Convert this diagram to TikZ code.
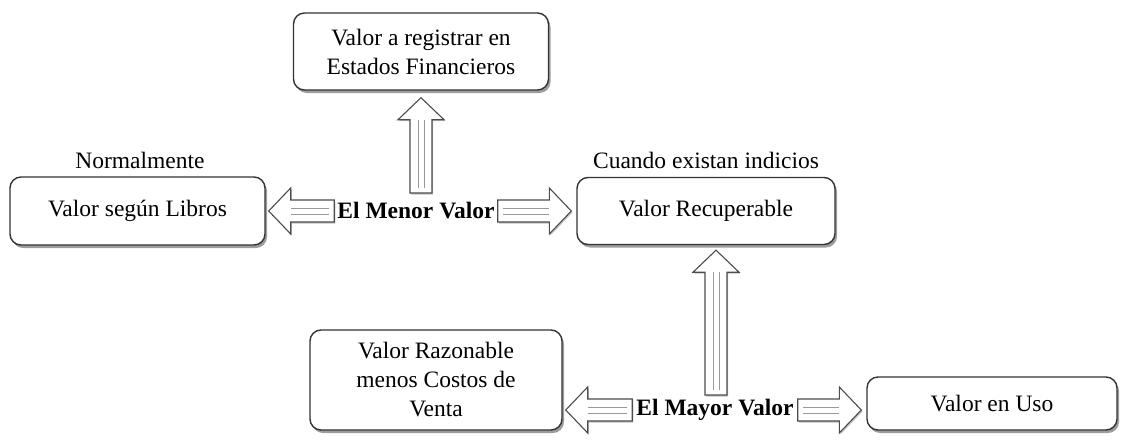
\documentclass[tikz,border=0pt]{standalone}
\usepackage{fontspec}
\setmainfont{Liberation Serif}
\usetikzlibrary{calc,shadows}
\tikzset{
  box/.style={draw=black!80, line width=1.4pt, fill=white, rounded corners=11pt,
    align=center, inner sep=2pt, font=\fontsize{23.5}{29}\selectfont,
    drop shadow={shadow xshift=2pt, shadow yshift=-3pt, fill=black!55, opacity=0.7}},
  lbl/.style={font=\fontsize{23.5}{29}\selectfont, inner sep=0pt},
  keylbl/.style={font=\fontsize{23.5}{29}\selectfont\bfseries, inner sep=0pt},
  arrowbody/.style={draw=black!70, line width=1.1pt, fill=white, line join=miter,
    drop shadow={shadow xshift=1.2pt, shadow yshift=-1.5pt, fill=black!40, opacity=0.6}},
  arrowline/.style={draw=black!40, line width=0.6pt},
}
\newcommand\blockarrow[2]{%
  \path[arrowbody] let \p1=(#1), \p2=(#2), \n1={atan2(\y2-\y1,\x2-\x1)},
    \n2={veclen(\x2-\x1,\y2-\y1)} in
    [shift={(\p1)}, rotate=\n1] (0,-11) -- (\n2-22,-11) -- (\n2-22,-23) -- (\n2,0)
    -- (\n2-22,23) -- (\n2-22,11) -- (0,11) -- cycle;
  \path[arrowline] let \p1=(#1), \p2=(#2), \n1={atan2(\y2-\y1,\x2-\x1)},
    \n2={veclen(\x2-\x1,\y2-\y1)} in
    [shift={(\p1)}, rotate=\n1] (5,-3) -- (\n2-22,-3) (5,3) -- (\n2-22,3);
}
\begin{document}
\begin{tikzpicture}[x=1pt, y=-1pt]
\useasboundingbox (0,0) rectangle (1126,439);

% boxes
\node[box, minimum width=255pt, minimum height=77pt] (top) at (421,51.5) {Valor a registrar en\\Estados Financieros};
\node[box, minimum width=255pt, minimum height=68pt] (libros) at (137.5,211) {Valor según Libros};
\node[box, minimum width=258pt, minimum height=67pt] (recup) at (706,211) {Valor Recuperable};
\node[box, minimum width=252pt, minimum height=100pt] (razon) at (436,380) {Valor Razonable\\menos Costos de\\Venta};
\node[box, minimum width=250pt, minimum height=53pt] (uso) at (992,403.5) {Valor en Uso};

% labels
\node[lbl] (norm) at (140,160) {Normalmente};
\node[lbl] (cuando) at (706,160) {Cuando existan indicios};
\node[keylbl] (menor) at (416,211) {El Menor Valor};
\node[keylbl] (mayor) at (715,410) {El Mayor Valor};

% arrow end points
\coordinate (a1s) at (421,193);
\coordinate (a1e) at ($(top.south)+(0,7)$);
\coordinate (a2s) at ($(menor.west)+(-3,0)$);
\coordinate (a2e) at ($(libros.east)+(3,0)$);
\coordinate (a3s) at ($(menor.east)+(3,0)$);
\coordinate (a3e) at ($(recup.west)+(-5,0)$);
\coordinate (a4s) at (716,395);
\coordinate (a4e) at ($(recup.south)+(10,5)$);
\coordinate (a5s) at ($(mayor.west)+(-4,0)$);
\coordinate (a5e) at ($(razon.east |- mayor.west)+(3,0)$);
\coordinate (a6s) at ($(mayor.east)+(4,0)$);
\coordinate (a6e) at ($(uso.west |- mayor.east)+(-5,0)$);

\blockarrow{a1s}{a1e}
\blockarrow{a2s}{a2e}
\blockarrow{a3s}{a3e}
\blockarrow{a4s}{a4e}
\blockarrow{a5s}{a5e}
\blockarrow{a6s}{a6e}
\end{tikzpicture}
\end{document}
